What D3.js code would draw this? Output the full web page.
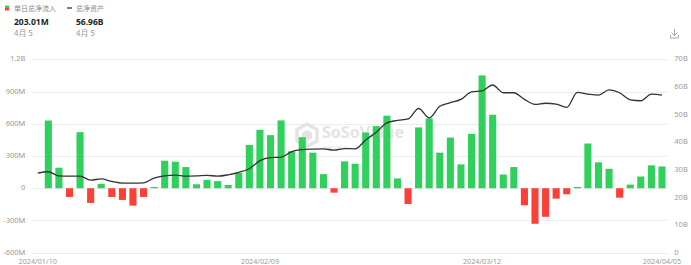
<!DOCTYPE html>
<html lang="zh">
<head>
  <meta charset="UTF-8">
  <title>单日总净流入 / 总净资产</title>
  <style>
    body {
      margin: 0;
      padding: 0;
      background-color: #ffffff;
      font-family: 'Noto Sans CJK SC', 'Noto Sans', sans-serif;
    }
    svg { display: block; }
    .tick-label { font-size: 7.5px; fill: #9a9a9a; }
    .date-label { font-size: 7.2px; fill: #9a9a9a; }
  </style>
</head>
<body>

<svg id="chart" width="691" height="265"></svg>

<script src="https://d3js.org/d3.v7.min.js"></script>
<script>
  // trading days shown on the x axis
  const dates = [
    "2024/01/10","2024/01/11","2024/01/12","2024/01/16","2024/01/17","2024/01/18","2024/01/19",
    "2024/01/22","2024/01/23","2024/01/24","2024/01/25","2024/01/26","2024/01/29","2024/01/30","2024/01/31",
    "2024/02/01","2024/02/02","2024/02/05","2024/02/06","2024/02/07","2024/02/08","2024/02/09",
    "2024/02/12","2024/02/13","2024/02/14","2024/02/15","2024/02/16","2024/02/20","2024/02/21",
    "2024/02/22","2024/02/23","2024/02/26","2024/02/27","2024/02/28","2024/02/29",
    "2024/03/01","2024/03/04","2024/03/05","2024/03/06","2024/03/07","2024/03/08","2024/03/11",
    "2024/03/12","2024/03/13","2024/03/14","2024/03/15","2024/03/18","2024/03/19","2024/03/20",
    "2024/03/21","2024/03/22","2024/03/25","2024/03/26","2024/03/27","2024/03/28",
    "2024/04/01","2024/04/02","2024/04/03","2024/04/04","2024/04/05"
  ];

  // 单日总净流入, millions USD (null = no flow that day)
  const netInflow = [
    null, 630, 191, -81, 522, -137, 41, -81, -109, -162, -81, 12, 256, 247, 197,
    37, 78, 66, 31, 144, 403, 544, 494, 631, 344, 475, 331, 131, -41, 250, 228,
    519, 578, 675, 91, -147, 566, 650, 331, 472, 222, 506, 1050, 684, 128, 197,
    -159, -331, -266, -97, -56, 12, 416, 241, 181, -88, 34, 109, 213, 203
  ];

  // 总净资产, billions USD
  const netAssets = [
    28.8, 29.3, 27.8, 27.7, 27.7, 26.3, 26.7, 25.8, 25.2, 25.2, 25.3, 27.0, 27.8, 28.1, 27.7,
    27.8, 28.0, 27.7, 28.2, 29.1, 30.4, 33.3, 34.4, 34.6, 36.6, 37.3, 37.5, 37.6, 37.1, 37.7, 37.6,
    40.8, 43.6, 47.0, 47.9, 48.4, 52.2, 48.8, 53.0, 54.3, 55.5, 58.2, 58.6, 60.7, 57.9, 57.9,
    55.5, 53.7, 54.1, 53.8, 52.6, 58.0, 57.4, 57.0, 58.9, 57.9, 55.3, 55.0, 57.4, 57.0
  ];

  const leftTicks = [-600, -300, 0, 300, 600, 900, 1200];
  const leftTickLabels = ["-600M", "-300M", "0", "300M", "600M", "900M", "1.2B"];
  const rightTicks = [0, 10, 20, 30, 40, 50, 60, 70];
  const rightTickLabels = ["0", "10B", "20B", "30B", "40B", "50B", "60B", "70B"];
  const xTickDates = ["2024/01/10", "2024/02/09", "2024/03/12", "2024/04/05"];

  const green = "#2fd05b", red = "#fb4038";

  const svg = d3.select("#chart");
  const plotLeft = 32.4, plotRight = 667.3, plotTop = 59.3, plotBottom = 252.7;

  const x = d3.scaleBand()
    .domain(dates)
    .range([plotLeft, plotRight])
    .paddingInner(0.33)
    .paddingOuter(0.17);

  const yLeft = d3.scaleLinear().domain([-600, 1200]).range([plotBottom, plotTop]);
  const yRight = d3.scaleLinear().domain([0, 70]).range([plotBottom, plotTop]);

  // gridlines
  svg.append("g").selectAll("line")
    .data(leftTicks)
    .join("line")
    .attr("x1", plotLeft).attr("x2", plotRight)
    .attr("y1", d => Math.round(yLeft(d)) + 0.5)
    .attr("y2", d => Math.round(yLeft(d)) + 0.5)
    .attr("stroke", "#ececec")
    .attr("stroke-width", 1);

  // left axis
  const leftAxis = svg.append("g")
    .attr("transform", `translate(${plotLeft - 4},0)`)
    .call(d3.axisLeft(yLeft).tickValues(leftTicks).tickSize(0)
      .tickFormat((d, i) => leftTickLabels[i]));
  leftAxis.select(".domain").remove();
  leftAxis.selectAll("text").attr("class", "tick-label").attr("dx", 0).attr("dy", "0.22em")
    .style("font-family", "'Noto Sans', sans-serif");

  // right axis
  const rightAxis = svg.append("g")
    .attr("transform", `translate(${plotRight + 4},0)`)
    .call(d3.axisRight(yRight).tickValues(rightTicks).tickSize(0)
      .tickFormat((d, i) => rightTickLabels[i]));
  rightAxis.select(".domain").remove();
  rightAxis.selectAll("text").attr("class", "tick-label").attr("dx", 0).attr("dy", "0.22em")
    .style("font-family", "'Noto Sans', sans-serif");

  // bottom axis
  const bottomAxis = svg.append("g")
    .attr("transform", `translate(0,${plotBottom})`)
    .call(d3.axisBottom(x).tickValues(xTickDates).tickSize(0).tickPadding(6));
  bottomAxis.select(".domain").remove();
  bottomAxis.selectAll("text").attr("class", "date-label")
    .style("font-family", "'Noto Sans', sans-serif");

  // watermark
  const wm = svg.append("g").attr("fill", "#e4e4e4");
  wm.append("path")
    .attr("d", "M307,124 L317,129.5 L317,141 L307,146.5 L297,141 L297,129.5 Z")
    .attr("fill", "none").attr("stroke", "#e4e4e4").attr("stroke-width", 3.5)
    .attr("stroke-linejoin", "round");
  wm.append("path")
    .attr("d", "M302,133 L307,130 L312,133 L312,138 L307,141 L302,138 Z");
  wm.append("text").attr("x", 322).attr("y", 138)
    .attr("font-family", "'Noto Sans', sans-serif").attr("font-weight", 700)
    .attr("font-size", 16).text("SoSoValue");
  wm.append("text").attr("x", 323).attr("y", 148.5)
    .attr("font-family", "'Noto Sans', sans-serif")
    .attr("font-size", 5.5).text("sosovalue");

  // bars
  const barData = dates.map((d, i) => ({ date: d, v: netInflow[i] })).filter(d => d.v !== null);
  svg.append("g").selectAll("rect")
    .data(barData)
    .join("rect")
    .attr("x", d => x(d.date))
    .attr("width", x.bandwidth())
    .attr("y", d => yLeft(Math.max(0, d.v)))
    .attr("height", d => Math.abs(yLeft(d.v) - yLeft(0)))
    .attr("fill", d => d.v >= 0 ? green : red);

  // net assets line
  const line = d3.line()
    .x((d, i) => x(dates[i]) + x.bandwidth() / 2)
    .y(d => yRight(d))
    .curve(d3.curveMonotoneX);

  svg.append("path")
    .datum(netAssets)
    .attr("d", line)
    .attr("fill", "none")
    .attr("stroke", "#333333")
    .attr("stroke-width", 1.3);

  // legend
  const legend = svg.append("g");
  legend.append("rect").attr("x", 5).attr("y", 5.5).attr("width", 4).attr("height", 2.5).attr("fill", green);
  legend.append("rect").attr("x", 5).attr("y", 8).attr("width", 4).attr("height", 2.5).attr("fill", red);
  legend.append("text").attr("x", 14).attr("y", 10.5)
    .attr("font-size", 7).attr("fill", "#888").text("单日总净流入");
  legend.append("line").attr("x1", 67).attr("x2", 72).attr("y1", 8).attr("y2", 8)
    .attr("stroke", "#333").attr("stroke-width", 1.3);
  legend.append("text").attr("x", 76).attr("y", 10.5)
    .attr("font-size", 7).attr("fill", "#888").text("总净资产");

  legend.append("text").attr("x", 14).attr("y", 25)
    .attr("font-family", "'Noto Sans', sans-serif").attr("font-weight", 700)
    .attr("font-size", 8.5).attr("fill", "#222").text("203.01M");
  legend.append("text").attr("x", 76).attr("y", 25)
    .attr("font-family", "'Noto Sans', sans-serif").attr("font-weight", 700)
    .attr("font-size", 8.5).attr("fill", "#222").text("56.96B");
  legend.append("text").attr("x", 14).attr("y", 36)
    .attr("font-size", 8).attr("fill", "#999").text("4月 5");
  legend.append("text").attr("x", 76).attr("y", 36)
    .attr("font-size", 8).attr("fill", "#999").text("4月 5");

  // download icon
  const dl = svg.append("g").attr("stroke", "#aaa").attr("stroke-width", 1).attr("fill", "none");
  dl.append("path").attr("d", "M674.5,29 L674.5,35.5 M671.5,32.5 L674.5,35.5 L677.5,32.5");
  dl.append("path").attr("d", "M670.5,35 L670.5,38 L678.5,38 L678.5,35");
</script>

</body>
</html>
